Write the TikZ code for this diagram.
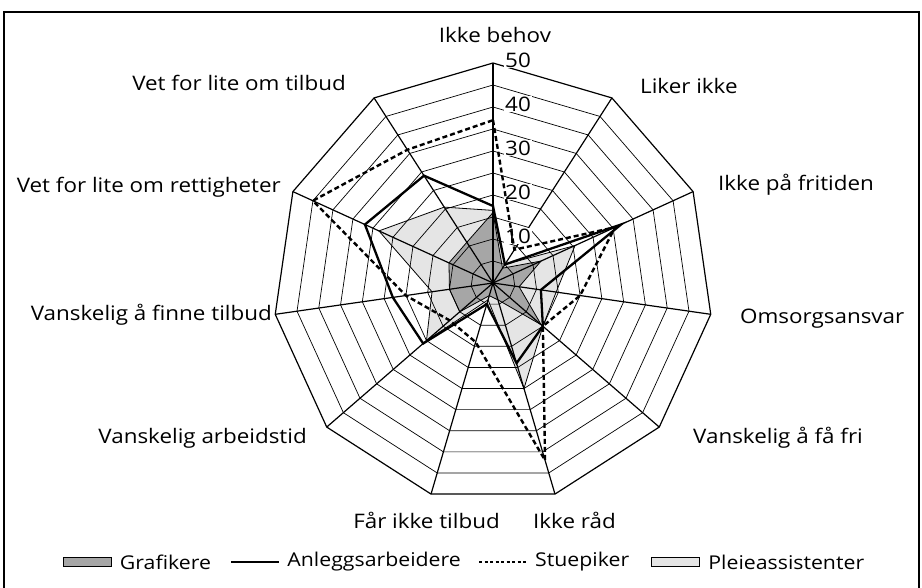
\documentclass[tikz,border=0pt]{standalone}
\usepackage{fontspec}
\setmainfont{Open Sans}[FakeStretch=1.12]
\usetikzlibrary{positioning}
\definecolor{darkgrey}{gray}{0.65}
\definecolor{lightgrey}{gray}{0.9}
\begin{document}
\begin{tikzpicture}[x=1pt, y=1pt,
    ring/.style={line width=0.7pt},
    spoke/.style={line width=1.2pt},
    lbl/.style={inner sep=0pt, font=\fontsize{20}{23}\selectfont},
    key/.style={inner sep=0pt, font=\fontsize{19}{22}\selectfont},
    tick/.style={fill=white, inner sep=1pt, font=\fontsize{20}{23}\selectfont},
    outline/.style={draw, line width=0.8pt},
    anlegg/.style={draw, line width=2.3pt},
    stue/.style={draw, line width=2.4pt, dash pattern=on 5pt off 3pt},
    swatch/.style={draw, line width=0.8pt, minimum width=48pt, minimum height=9pt, inner sep=0pt}]
\useasboundingbox (-493,-304) rectangle (429,283);
% frame
\draw[line width=2pt] (-489,-320) -- (-489,271) -- (426,271) -- (426,-320);

% data points
\foreach \v [count=\i from 0] in {16,4,12,6,14.5,4,3,10,10,11,11}
    \coordinate (g\i) at ({90-\i*360/11}:{\v*4.4});
\foreach \v [count=\i from 0] in {17.5,5,32,11,15,19,5,21,23,32,29}
    \coordinate (a\i) at ({90-\i*360/11}:{\v*4.4});
\foreach \v [count=\i from 0] in {37,9,30.5,20,15,42,14,13,20,45,36}
    \coordinate (s\i) at ({90-\i*360/11}:{\v*4.4});
\foreach \v [count=\i from 0] in {16.5,5,20.5,14.5,15,25,4,20,14,28.5,20.5}
    \coordinate (p\i) at ({90-\i*360/11}:{\v*4.4});

% fills
\fill[lightgrey] (p0) \foreach \i in {1,...,10}{-- (p\i)} -- cycle;
\fill[darkgrey] (g0) \foreach \i in {1,...,10}{-- (g\i)} -- cycle;

% grid
\coordinate (c) at (0,0);
\foreach \i in {0,...,10}
    \coordinate (ax\i) at ({90-\i*360/11}:220);
\foreach \r in {1,...,9}
    \draw[ring] (90:{\r*22}) \foreach \i in {1,...,10}{-- ({90-\i*360/11}:{\r*22})} -- cycle;
\draw[spoke] (ax0) \foreach \i in {1,...,10}{-- (ax\i)} -- cycle;
\foreach \i in {0,...,10}
    \draw[spoke] (c) -- (ax\i);

% scale
\foreach \t in {1,...,5}
    \node[tick] (t\t) at (25,{\t*44+3}) {\t0};

% series
\draw[outline] (p0) \foreach \i in {1,...,10}{-- (p\i)} -- cycle;
\draw[outline] (g0) \foreach \i in {1,...,10}{-- (g\i)} -- cycle;
\draw[anlegg] (a0) \foreach \i in {1,...,10}{-- (a\i)} -- cycle;
\draw[stue] (s0) \foreach \i in {1,...,10}{-- (s\i)} -- cycle;

% axis labels
\node[lbl] (l0) at (2,248) {Ikke behov};
\node[lbl, anchor=west] (l1) at (147,197) {Liker ikke};
\node[lbl, anchor=west] (l2) at (225,98) {Ikke på fritiden};
\node[lbl, anchor=west] (l3) at (247,-36) {Omsorgsansvar};
\node[lbl, anchor=west] (l4) at (200,-155) {Vanskelig å få fri};
\node[lbl, anchor=west] (l5) at (40,-237) {Ikke råd};
\node[lbl, anchor=east] (l6) at (7,-237) {Får ikke tilbud};
\node[lbl, anchor=east] (l7) at (-186,-155) {Vanskelig arbeidstid};
\node[lbl, anchor=east] (l8) at (-221,-32) {Vanskelig å finne tilbud};
\node[lbl, anchor=east] (l9) at (-212,96) {Vet for lite om rettigheter};
\node[lbl, anchor=east] (l10) at (-147,200) {Vet for lite om tilbud};

% legend
\node[swatch, fill=darkgrey, anchor=west] (kgraf) at (-430,-279) {};
\node[key, right=8pt of kgraf] (tgraf) {Grafikere};
\coordinate[right=20pt of tgraf] (kanA);
\coordinate[right=48pt of kanA] (kanB);
\draw[anlegg] (kanA) -- (kanB);
\node[key, right=8pt of kanB] (tan) {Anleggsarbeidere};
\coordinate[right=18pt of tan] (kstA);
\coordinate[right=48pt of kstA] (kstB);
\draw[stue, dash pattern=on 3pt off 2.5pt] (kstA) -- (kstB);
\node[key, right=8pt of kstB] (tst) {Stuepiker};
\node[swatch, fill=lightgrey, right=22pt of tst] (kpl) {};
\node[key, right=8pt of kpl] (tpl) {Pleieassistenter};
\end{tikzpicture}
\end{document}
